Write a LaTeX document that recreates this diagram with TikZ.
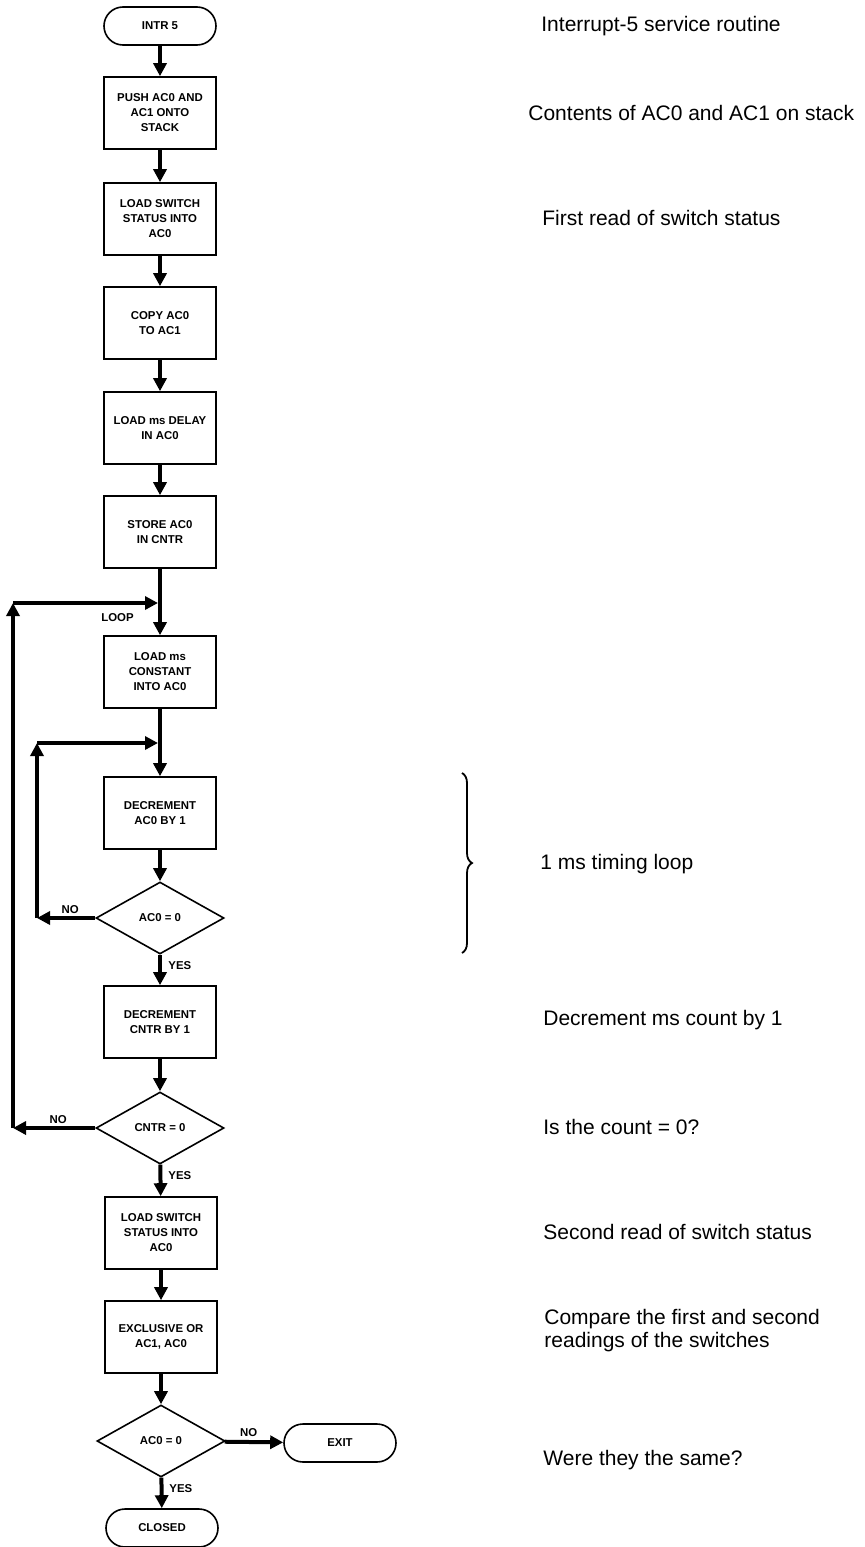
\documentclass[tikz,border=0pt]{standalone}
\usepackage{fontspec}
\setmainfont{Liberation Sans}
\usetikzlibrary{arrows.meta,positioning,shapes.geometric,decorations.pathreplacing}

\begin{document}
\begin{tikzpicture}[
  x=0.5pt, y=-0.5pt,
  proc/.style={draw, line width=0.8pt, minimum width=56pt, minimum height=36pt,
    inner sep=1pt, align=center, font=\bfseries\fontsize{5.7}{7.5}\selectfont},
  term/.style={proc, minimum height=19pt, rounded corners=9.5pt},
  test/.style={draw, diamond, line width=0.8pt, minimum width=64pt, minimum height=36pt,
    inner sep=0pt, font=\bfseries\fontsize{5.7}{7.5}\selectfont},
  flow/.style={line width=2pt, -{Triangle[length=6.5pt,width=6.5pt]}},
  flabel/.style={inner sep=1pt, font=\bfseries\fontsize{5.7}{7.5}\selectfont},
  note/.style={anchor=west, inner sep=0pt, align=left, font=\fontsize{10.5}{11.5}\selectfont}
]
\useasboundingbox (0,0) rectangle (865,1547);

% main column
\node[term] (start) at (160,26) {INTR 5};
\node[proc] (push) at (160,113) {PUSH AC0 AND\\AC1 ONTO\\STACK};
\node[proc] (read1) at (160,219) {LOAD SWITCH\\STATUS INTO\\AC0};
\node[proc] (copy) at (160,323) {COPY AC0\\TO AC1};
\node[proc] (delay) at (160,428) {LOAD ms DELAY\\IN AC0};
\node[proc] (store) at (160,532) {STORE AC0\\IN CNTR};
\coordinate (loop) at (160,603);
\node[proc] (const) at (160,672) {LOAD ms\\CONSTANT\\INTO AC0};
\coordinate (inner) at (160,743);
\node[proc] (dec) at (160,813) {DECREMENT\\AC0 BY 1};
\node[test] (test1) at (160,918) {AC0 = 0};
\node[proc] (deccnt) at (160,1022) {DECREMENT\\CNTR BY 1};
\node[test] (test2) at (160,1128) {CNTR = 0};
\node[proc] (read2) at (161,1233) {LOAD SWITCH\\STATUS INTO\\AC0};
\node[proc] (xor) at (161,1337) {EXCLUSIVE OR\\AC1, AC0};
\node[test] (test3) at (161,1441) {AC0 = 0};
\node[term] (exit) at (340,1443) {EXIT};
\node[term] (closed) at (162,1528) {CLOSED};

\draw[flow] (start) -- (push);
\draw[flow] (push) -- (read1);
\draw[flow] (read1) -- (copy);
\draw[flow] (copy) -- (delay);
\draw[flow] (delay) -- (store);
\draw[flow] (store) -- (const);
\draw[flow] (const) -- (dec);
\draw[flow] (dec) -- (test1);
\draw[flow] (test1) -- (deccnt);
\draw[flow] (deccnt) -- (test2);
\draw[flow] (test2) -- (read2);
\draw[flow] (read2) -- (xor);
\draw[flow] (xor) -- (test3);
\draw[flow] (test3) -- (closed);
\draw[flow] (test3) -- (exit);

% inner (1 ms) loop
\coordinate (in1) at (37,918);
\coordinate (in2) at (37,743);
\draw[flow] (test1.west) -- (in1);
\draw[flow] (in1) -- (in2);
\draw[flow, shorten >=1pt] (in2) -- (inner);

% outer (count) loop
\coordinate (out1) at (13,1128);
\coordinate (out2) at (13,603);
\draw[flow] (test2.west) -- (out1);
\draw[flow] (out1) -- (out2);
\draw[flow, shorten >=1pt] (out2) -- (loop);

% branch labels
\node[flabel, below left=4pt and 12pt of loop] {LOOP};
\node[flabel, above left=1pt and 7pt of test1.west] {NO};
\node[flabel, below right=2pt and 3pt of test1.south] {YES};
\node[flabel, above left=1pt and 13pt of test2.west] {NO};
\node[flabel, below right=2pt and 3pt of test2.south] {YES};
\node[flabel, above right=1pt and 6pt of test3.east] {NO};
\node[flabel, below right=2pt and 3pt of test3.south] {YES};

% comments on the right
\node[note] (n1) at (541,26) {Interrupt-5 service routine};
\node[note] (n2) at (528,113) {Contents of AC0 and AC1 on stack};
\node[note] (n3) at (542,218) {First read of switch status};
\draw[decorate, decoration={brace, amplitude=5pt}, line width=0.9pt] (462,773) -- (462,953);
\node[note] (n4) at (540,864) {1 ms timing loop};
\node[note] (n5) at (543,1020) {Decrement ms count by 1};
\node[note] (n6) at (543,1127) {Is the count = 0?};
\node[note] (n7) at (543,1232) {Second read of switch status};
\node[note] (n8) at (544,1331) {Compare the first and second\\readings of the switches};
\node[note] (n9) at (543,1460) {Were they the same?};
\end{tikzpicture}
\end{document}
